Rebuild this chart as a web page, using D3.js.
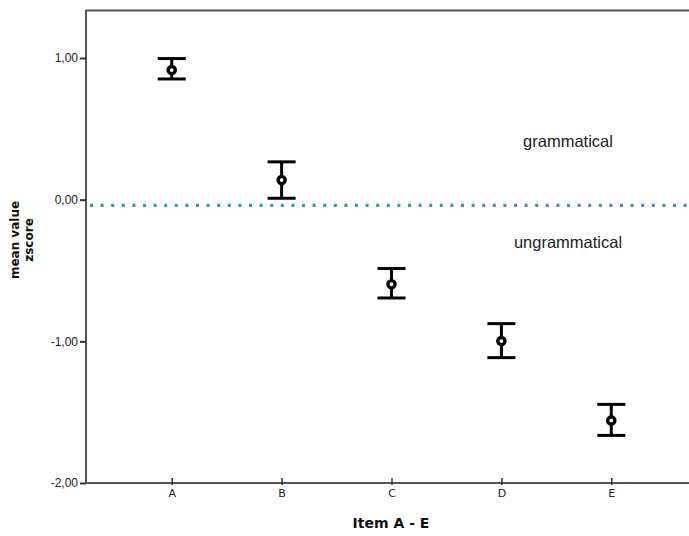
<!DOCTYPE html>
<html><head><meta charset="utf-8">
<script src="https://cdn.jsdelivr.net/npm/d3@7"></script>
<style>body{margin:0;background:#fff}svg{display:block}</style>
</head><body>
<script>
const categories = ["A","B","C","D","E"];
const means = [0.915, 0.138, -0.597, -0.998, -1.558];
const upper = [0.996, 0.267, -0.486, -0.875, -1.445];
const lower = [0.852, 0.010, -0.694, -1.115, -1.664];
const yTicks = [1, 0, -1, -2];
const yTickLabels = ["1,00","0,00","-1,00","-2,00"];
const refLineValue = -0.04;
const aboveLabel = "grammatical";
const belowLabel = "ungrammatical";

const W = 689, H = 536;
const svg = d3.select("body").append("svg").attr("width", W).attr("height", H);
const mLeft = 86, mRight = 697, mTop = 10, mBottom = 483;

const y = d3.scaleLinear().domain([-2, 1]).range([mBottom, 58]);
const x = d3.scalePoint().domain(categories).range([mLeft, mRight]).padding(0.78);

// frame
svg.append("line").attr("x1", mLeft).attr("x2", W).attr("y1", mTop+0.5).attr("y2", mTop+0.5)
  .attr("stroke", "#555").attr("stroke-width", 2);

// y axis
const yAxis = d3.axisLeft(y).tickValues(yTicks).tickSize(6).tickPadding(2)
  .tickFormat(d=>yTickLabels[yTicks.indexOf(d)]);
const gy = svg.append("g").attr("transform", `translate(${mLeft},0)`).call(yAxis);
gy.select(".domain").attr("d", `M0,${mTop}V${mBottom}`).attr("stroke","#555").attr("stroke-width",2);
gy.selectAll(".tick line").attr("stroke","#333").attr("stroke-width",2);
gy.selectAll(".tick text").attr("font-family","Arial, 'Liberation Sans', sans-serif").attr("font-size",12).attr("fill","#222");

// x axis
const xAxis = d3.axisBottom(x).tickSize(6).tickPadding(3);
const gx = svg.append("g").attr("transform", `translate(0,${mBottom})`).call(xAxis);
gx.select(".domain").attr("d", `M${mLeft},0H${W}`).attr("stroke","#555").attr("stroke-width",2);
gx.selectAll(".tick line").attr("stroke","#333").attr("stroke-width",1.5).attr("y1",-5).attr("y2",2);
gx.selectAll(".tick text").attr("font-family","'DejaVu Sans', sans-serif").attr("font-size",11).attr("fill","#222").attr("y",6);

// reference line
svg.append("line").attr("x1", mLeft+4).attr("x2", W).attr("y1", y(refLineValue)).attr("y2", y(refLineValue))
  .attr("stroke","#3a97ad").attr("stroke-width",3.2).attr("stroke-dasharray","3,7.6");

// annotations
svg.append("text").attr("x", 568).attr("y", 147).attr("text-anchor","middle")
  .attr("font-family","Arial, 'Liberation Sans', sans-serif").attr("font-size",16.5).attr("fill","#222").text(aboveLabel);
svg.append("text").attr("x", 568).attr("y", 248).attr("text-anchor","middle")
  .attr("font-family","Arial, 'Liberation Sans', sans-serif").attr("font-size",16.5).attr("fill","#222").text(belowLabel);

// error bars
const g = svg.append("g");
categories.forEach((c,i)=>{
  const cx = x(c);
  g.append("line").attr("x1",cx).attr("x2",cx).attr("y1",y(upper[i])).attr("y2",y(lower[i]))
    .attr("stroke","#000").attr("stroke-width",3);
  [upper[i], lower[i]].forEach(v=>{
    g.append("line").attr("x1",cx-14).attr("x2",cx+14).attr("y1",y(v)).attr("y2",y(v))
      .attr("stroke","#000").attr("stroke-width",3);
  });
  g.append("circle").attr("cx",cx).attr("cy",y(means[i])).attr("r",3.6)
    .attr("fill","#fff").attr("stroke","#000").attr("stroke-width",3.4);
});

// axis titles
svg.append("text").attr("x", 391).attr("y", 528).attr("text-anchor","middle")
  .attr("font-family","'DejaVu Sans', sans-serif").attr("font-weight","bold").attr("font-size",14).attr("fill","#111").text("Item A - E");
const yl = svg.append("text").attr("transform","translate(19,240) rotate(-90)").attr("text-anchor","middle")
  .attr("font-family","'DejaVu Sans', sans-serif").attr("font-weight","bold").attr("font-size",12).attr("fill","#111");
yl.append("tspan").attr("x",0).attr("dy",0).text("mean value");
yl.append("tspan").attr("x",0).attr("dy",14).text("zscore");
</script>
</body></html>
